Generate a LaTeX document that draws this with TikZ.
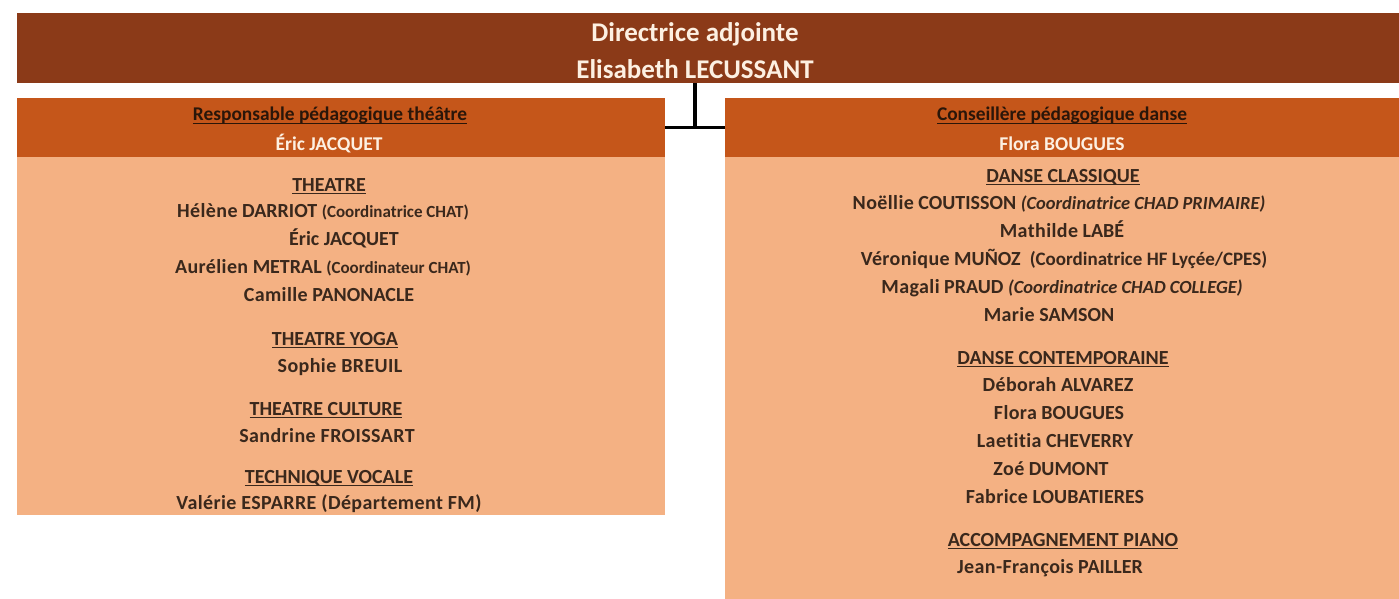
\documentclass[tikz,border=0pt]{standalone}
\usepackage{fontspec}
\setmainfont{Carlito}[Ligatures=NoCommon]
\newfontfamily\spaced{Carlito}[LetterSpace=2,Ligatures=NoCommon]
\usetikzlibrary{calc}
\definecolor{topbrown}{HTML}{8B3A18}
\definecolor{headorange}{HTML}{C5561A}
\definecolor{bodypeach}{HTML}{F4B183}
\definecolor{creamtext}{HTML}{FDF0E2}
\definecolor{bodytext}{HTML}{3A281C}
\definecolor{headtext}{HTML}{2A1609}
\tikzset{
  panel/.style={anchor=north west, inner sep=0pt, outer sep=0pt, draw=none},
  toptxt/.style={anchor=base, inner sep=0pt, text=creamtext, font=\fontsize{27}{31}\selectfont\bfseries},
  headsub/.style={anchor=base, inner sep=0pt, text=headtext, font=\fontsize{19.4}{22}\selectfont\bfseries},
  headname/.style={anchor=base, inner sep=0pt, text=creamtext, font=\fontsize{19.5}{22}\selectfont\bfseries},
  bt/.style={anchor=base, inner sep=0pt, text=bodytext, font=\fontsize{20}{24}\selectfont\bfseries},
  link/.style={draw=black, line width=3.5pt}
}
\newsavebox{\ttlbox}
\newcommand{\ttl}[1]{\sbox{\ttlbox}{#1}\rlap{\rule[-3pt]{\wd\ttlbox}{1.4pt}}\usebox{\ttlbox}}
\newcommand{\note}[2][17]{{\fontsize{#1}{20}\selectfont #2}}
\newcommand{\inote}[1]{{\fontsize{18.5}{20}\selectfont\itshape #1}}
\begin{document}
\begin{tikzpicture}[x=1pt,y=-1pt]
\useasboundingbox (0,0) rectangle (1399,599);
\fill[white] (0,0) rectangle (1399,599);
% panels
\node[panel, fill=topbrown, minimum width=1382pt, minimum height=70pt] (dir) at (17,13) {};
\node[panel, fill=headorange, minimum width=648pt, minimum height=59pt] (lh) at (17,98) {};
\node[panel, fill=bodypeach, minimum width=648pt, minimum height=358pt] (lb) at (17,157) {};
\node[panel, fill=headorange, minimum width=674pt, minimum height=59pt] (rh) at (725,98) {};
\node[panel, fill=bodypeach, minimum width=674pt, minimum height=442pt] (rb) at (725,157) {};
% connector
\coordinate (j) at ($(lh.east)!0.5!(rh.west)$);
\draw[link] (lh.east) -- (rh.west);
\draw[link] (j) -- (j |- dir.south);
% top header text
\node[toptxt] (t1) at (695,42) {Directrice adjointe};
\node[toptxt] (t2) at (695,79) {Elisabeth LECUSSANT};
% left header
\node[headsub] (lh1) at (330,121) {\ttl{Responsable pédagogique théâtre}};
\node[headname] (lh2) at (329,150) {Éric JACQUET};
% right header
\node[headsub] (rh1) at (1062,121) {\ttl{Conseillère pédagogique danse}};
\node[headname] (rh2) at (1062,150) {Flora BOUGUES};
% left body
\node[bt] (l1) at (329,191) {\ttl{THEATRE}};
\node[bt] (l2) at (323,217) {{\spaced Hélène} DARRIOT \note{(Coordinatrice CHAT)}};
\node[bt] (l3) at (344,245) {Éric JACQUET};
\node[bt] (l4) at (323,273) {{\spaced Aurélien} METRAL \note{(Coordinateur CHAT)}};
\node[bt] (l5) at (329,301) {{\spaced Camille} PANONACLE};
\node[bt] (l6) at (335,345) {\ttl{THEATRE YOGA}};
\node[bt] (l7) at (340,372) {{\spaced Sophie BREUIL}};
\node[bt] (l8) at (326,415) {\ttl{THEATRE CULTURE}};
\node[bt] (l9) at (327,442) {{\spaced Sandrine FROISSART}};
\node[bt] (l10) at (329,483) {\ttl{TECHNIQUE VOCALE}};
\node[bt] (l11) at (329,509) {{\spaced Valérie ESPARRE (Département FM)}};
% right body
\node[bt] (r1) at (1063,182) {\ttl{DANSE CLASSIQUE}};
\node[bt] (r2) at (1059,209) {{\spaced Noëllie} COUTISSON \inote{(Coordinatrice CHAD PRIMAIRE)}};
\node[bt] (r3) at (1062,237) {{\spaced Mathilde} LABÉ};
\node[bt] (r4) at (1064,265) {{\spaced Véronique} MUÑOZ\ \ \note[19]{(Coordinatrice HF Lyçée/CPES)}};
\node[bt] (r5) at (1062,293) {{\spaced Magali} PRAUD \inote{(Coordinatrice CHAD COLLEGE)}};
\node[bt] (r6) at (1049,321) {{\spaced Marie} SAMSON};
\node[bt] (r7) at (1063,364) {\ttl{DANSE CONTEMPORAINE}};
\node[bt] (r8) at (1058,391) {{\spaced Déborah} ALVAREZ};
\node[bt] (r9) at (1059,419) {{\spaced Flora} BOUGUES};
\node[bt] (r10) at (1055,447) {{\spaced Laetitia} CHEVERRY};
\node[bt] (r11) at (1051,475) {{\spaced Zoé} DUMONT};
\node[bt] (r12) at (1055,503) {{\spaced Fabrice} LOUBATIERES};
\node[bt] (r13) at (1063,546) {\ttl{ACCOMPAGNEMENT PIANO}};
\node[bt] (r14) at (1050,573) {{\spaced Jean-François} PAILLER};
\end{tikzpicture}
\end{document}
